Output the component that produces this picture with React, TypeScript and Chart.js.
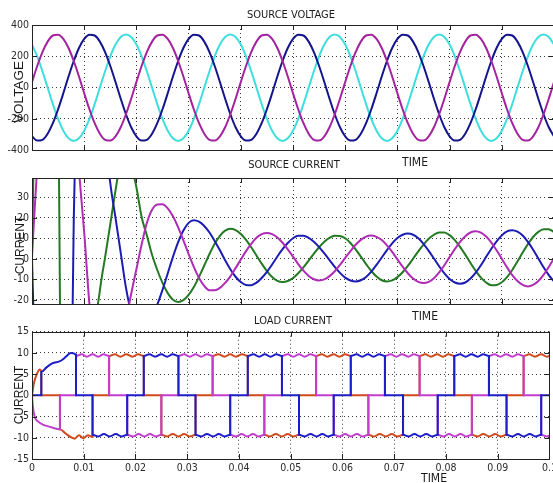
import React, { useEffect, useRef } from 'react';
import { Chart, registerables } from 'chart.js';

Chart.register(...registerables);

// ---------------- data ----------------
// time axis in milliseconds (axis labels shown in seconds)
const T_MS = [
  0, 1, 2, 3, 4, 5, 6, 7, 8, 9, 10, 11, 12, 13, 14, 15, 16, 17, 18, 19,
  20, 21, 22, 23, 24, 25, 26, 27, 28, 29, 30, 31, 32, 33, 34, 35, 36, 37, 38, 39,
  40, 41, 42, 43, 44, 45, 46, 47, 48, 49, 50, 51, 52, 53, 54, 55, 56, 57, 58, 59,
  60, 61, 62, 63, 64, 65, 66, 67, 68, 69, 70, 71, 72, 73, 74, 75, 76, 77, 78, 79,
  80, 81, 82, 83, 84, 85, 86, 87, 88, 89, 90, 91, 92, 93, 94, 95, 96, 97, 98, 99, 100,
];

// SOURCE VOLTAGE (V)
const V_MAGENTA = [
  36, 138, 227, 294, 333, 338, 311, 253, 170, 71, -36, -138, -227, -294, -333, -338, -311, -253, -170, -71,
  36, 138, 227, 294, 333, 338, 311, 253, 170, 71, -36, -138, -227, -294, -333, -338, -311, -253, -170, -71,
  36, 138, 227, 294, 333, 338, 311, 253, 170, 71, -36, -138, -227, -294, -333, -338, -311, -253, -170, -71,
  36, 138, 227, 294, 333, 338, 311, 253, 170, 71, -36, -138, -227, -294, -333, -338, -311, -253, -170, -71,
  36, 138, 227, 294, 333, 338, 311, 253, 170, 71, -36, -138, -227, -294, -333, -338, -311, -253, -170, -71,
  36,
];
const V_NAVY = [
  -311, -338, -333, -294, -227, -138, -36, 71, 170, 253, 311, 338, 333, 294, 227, 138, 36, -71, -170, -253,
  -311, -338, -333, -294, -227, -138, -36, 71, 170, 253, 311, 338, 333, 294, 227, 138, 36, -71, -170, -253,
  -311, -338, -333, -294, -227, -138, -36, 71, 170, 253, 311, 338, 333, 294, 227, 138, 36, -71, -170, -253,
  -311, -338, -333, -294, -227, -138, -36, 71, 170, 253, 311, 338, 333, 294, 227, 138, 36, -71, -170, -253,
  -311, -338, -333, -294, -227, -138, -36, 71, 170, 253, 311, 338, 333, 294, 227, 138, 36, -71, -170, -253,
  -311,
];
const V_CYAN = [
  275, 200, 105, 0, -105, -200, -275, -323, -340, -323, -275, -200, -105, 0, 105, 200, 275, 323, 340, 323,
  275, 200, 105, 0, -105, -200, -275, -323, -340, -323, -275, -200, -105, 0, 105, 200, 275, 323, 340, 323,
  275, 200, 105, 0, -105, -200, -275, -323, -340, -323, -275, -200, -105, 0, 105, 200, 275, 323, 340, 323,
  275, 200, 105, 0, -105, -200, -275, -323, -340, -323, -275, -200, -105, 0, 105, 200, 275, 323, 340, 323,
  275, 200, 105, 0, -105, -200, -275, -323, -340, -323, -275, -200, -105, 0, 105, 200, 275, 323, 340, 323,
  275,
];

// SOURCE CURRENT (A)
const IS_MAGENTA = [
  2, 45, 80, 100, 108, 110, 105, 90, 68, 43,
  13, -22, -45, -57, -61, -60, -53, -42, -30, -17,
  -5, 7, 17.5, 24, 26.6, 26.7, 24.7, 20.8, 15.4, 9.1,
  2.4, -3.9, -9.3, -13.2, -15.3, -15.3, -14.1, -11.7, -8.5, -4.5,
  -0.3, 3.8, 7.4, 10.3, 12.1, 12.7, 12.1, 10.5, 7.9, 4.7,
  1.1, -2.5, -5.7, -8.3, -9.9, -10.5, -10, -8.4, -6, -2.9,
  0.5, 3.8, 6.9, 9.3, 10.9, 11.4, 10.8, 9.2, 6.6, 3.4,
  -0.2, -3.8, -7, -9.6, -11.2, -11.8, -11.2, -9.4, -6.6, -3.1,
  0.9, 4.8, 8.3, 11.1, 12.9, 13.5, 12.8, 10.9, 8, 4.2,
  0.1, -4.1, -7.9, -10.8, -12.7, -13.4, -12.7, -10.8, -7.8, -3.9,
  0.3,
];
const IS_BLUE = [
  0, -90, -150, -190, -210, -215, -205, -170, 19, 140,
  195, 205, 180, 125, 62, 37, 20, 3, -14, -26,
  -32, -33, -31.7, -28, -22.3, -15.1, -7.1, 1, 8.2, 13.9,
  17.6, 18.9, 18.2, 16.1, 12.9, 8.8, 4.2, -0.6, -5, -8.7,
  -11.3, -12.7, -12.8, -11.6, -9.3, -6.3, -2.7, 1.2, 4.8, 7.8,
  10.1, 11.3, 11.3, 10.3, 8.4, 5.8, 2.7, -0.6, -3.9, -6.8,
  -9.1, -10.5, -11, -10.4, -8.8, -6.2, -2.9, 0.7, 4.3, 7.6,
  10.2, 11.8, 12.4, 11.8, 10.1, 7.4, 3.9, 0.2, -3.6, -7.1,
  -9.8, -11.5, -12.1, -11.5, -9.6, -6.7, -3.1, 1, 5, 8.6,
  11.5, 13.4, 14, 13.3, 11.4, 8.3, 4.5, 0.2, -4.1, -7.9,
  -11,
];
const IS_GREEN = [
  0, 150, 230, 260, 240, 100, -230, -290, -300, -270,
  -200, -110, -40, -15.5, 0.8, 17, 33.5, 48, 53, 46,
  35, 20.5, 11.5, 2, -5.4, -11.7, -16.7, -19.9, -21, -20.1,
  -17.6, -13.7, -8.7, -3.2, 2.4, 7.4, 11.3, 13.8, 14.7, 14.1,
  12.2, 9.3, 5.7, 1.7, -2.3, -5.9, -8.8, -10.7, -11.3, -10.8,
  -9.3, -7, -4.1, -0.8, 2.6, 5.7, 8.4, 10.3, 11.3, 11.2,
  10.1, 7.8, 4.7, 1.1, -2.5, -5.9, -8.6, -10.4, -11, -10.5,
  -8.9, -6.5, -3.4, 0.1, 3.7, 7, 9.8, 11.8, 12.9, 12.9,
  11.6, 9.2, 5.9, 2.1, -2, -5.8, -9.1, -11.5, -12.8, -12.7,
  -11.4, -8.9, -5.4, -1.3, 3.1, 7.2, 10.7, 13.2, 14.5, 14.5,
  13.1,
];

// LOAD CURRENT (A): [time ms, current]
const IL_BLUE: [number, number][] = [
  [0, 0], [1.8, 0], [1.8, 5.5], [2.8, 6.6], [4.0, 7.6], [5.3, 8.0], [6.0, 8.5], [6.8, 9.4], [7.5, 10.0], [8.1, 9.9], [8.5, 9.6], [8.5, 0],
  [11.7, 0], [11.7, -9.3], [12.8, -9.7], [13.9, -9.1], [15.0, -9.7], [16.2, -9.1], [17.3, -9.7], [18.4, -9.3], [18.4, 0],
  [21.6, 0], [21.6, 9.3], [22.7, 9.7], [23.8, 9.1], [25.0, 9.7], [26.1, 9.1], [27.2, 9.7], [28.3, 9.3], [28.3, 0],
  [31.6, 0], [31.6, -9.3], [32.7, -9.7], [33.8, -9.1], [35.0, -9.7], [36.1, -9.1], [37.2, -9.7], [38.3, -9.3], [38.3, 0],
  [41.7, 0], [41.7, 9.3], [42.8, 9.7], [43.9, 9.1], [45.0, 9.7], [46.1, 9.1], [47.2, 9.7], [48.3, 9.3], [48.3, 0],
  [51.6, 0], [51.6, -9.3], [52.7, -9.7], [53.8, -9.1], [55.0, -9.7], [56.1, -9.1], [57.2, -9.7], [58.3, -9.3], [58.3, 0],
  [61.6, 0], [61.6, 9.3], [62.7, 9.7], [63.8, 9.1], [64.9, 9.7], [66.0, 9.1], [67.1, 9.7], [68.2, 9.3], [68.2, 0],
  [71.7, 0], [71.7, -9.3], [72.8, -9.7], [73.9, -9.1], [75.0, -9.7], [76.2, -9.1], [77.3, -9.7], [78.4, -9.3], [78.4, 0],
  [81.6, 0], [81.6, 9.3], [82.7, 9.7], [83.8, 9.1], [84.9, 9.7], [86.1, 9.1], [87.2, 9.7], [88.3, 9.3], [88.3, 0],
  [91.7, 0], [91.7, -9.3], [92.8, -9.7], [93.9, -9.1], [95.0, -9.7], [96.2, -9.1], [97.3, -9.7], [98.4, -9.3], [98.4, 0],
  [101.6, 0],
];
const IL_MAGENTA: [number, number][] = [
  [0, 0], [0.15, -2.5], [0.5, -5.0], [1.2, -6.2], [2.1, -6.9], [3.7, -7.5], [5.4, -8.0], [5.4, 0],
  [8.5, 0], [8.5, 9.3], [9.6, 9.7], [10.6, 9.1], [11.7, 9.7], [12.8, 9.1], [13.8, 9.7], [14.9, 9.3], [14.9, 0],
  [18.4, 0], [18.4, -9.3], [19.5, -9.7], [20.6, -9.1], [21.7, -9.7], [22.8, -9.1], [23.9, -9.7], [25.0, -9.3], [25.0, 0],
  [28.3, 0], [28.3, 9.3], [29.4, 9.7], [30.5, 9.1], [31.6, 9.7], [32.7, 9.1], [33.8, 9.7], [34.9, 9.3], [34.9, 0],
  [38.3, 0], [38.3, -9.3], [39.4, -9.7], [40.5, -9.1], [41.6, -9.7], [42.7, -9.1], [43.8, -9.7], [44.9, -9.3], [44.9, 0],
  [48.3, 0], [48.3, 9.3], [49.4, 9.7], [50.5, 9.1], [51.6, 9.7], [52.7, 9.1], [53.8, 9.7], [54.9, 9.3], [54.9, 0],
  [58.3, 0], [58.3, -9.3], [59.4, -9.7], [60.5, -9.1], [61.6, -9.7], [62.8, -9.1], [63.9, -9.7], [65.0, -9.3], [65.0, 0],
  [68.2, 0], [68.2, 9.3], [69.3, 9.7], [70.4, 9.1], [71.5, 9.7], [72.7, 9.1], [73.8, 9.7], [74.9, 9.3], [74.9, 0],
  [78.4, 0], [78.4, -9.3], [79.5, -9.7], [80.6, -9.1], [81.7, -9.7], [82.8, -9.1], [83.9, -9.7], [85.0, -9.3], [85.0, 0],
  [88.3, 0], [88.3, 9.3], [89.4, 9.7], [90.5, 9.1], [91.6, 9.7], [92.8, 9.1], [93.9, 9.7], [95.0, 9.3], [95.0, 0],
  [98.4, 0], [98.4, -9.3], [99.5, -9.7], [100.6, -9.1], [101.7, -9.7],
];
const IL_ORANGE: [number, number][] = [
  [0, 0], [0.4, 3.0], [1.0, 5.2], [1.5, 6.1], [1.8, 5.8], [1.8, 0],
  [5.4, 0], [5.4, -8.0], [6.5, -9.0], [7.6, -9.9], [8.2, -10.2], [9.1, -9.4], [9.9, -10.1], [10.8, -9.4], [11.7, -9.8], [11.7, 0],
  [14.9, 0], [14.9, 9.3], [16.0, 9.7], [17.1, 9.1], [18.2, 9.7], [19.4, 9.1], [20.5, 9.7], [21.6, 9.3], [21.6, 0],
  [25.0, 0], [25.0, -9.3], [26.1, -9.7], [27.2, -9.1], [28.3, -9.7], [29.4, -9.1], [30.5, -9.7], [31.6, -9.3], [31.6, 0],
  [34.9, 0], [34.9, 9.3], [36.0, 9.7], [37.2, 9.1], [38.3, 9.7], [39.4, 9.1], [40.6, 9.7], [41.7, 9.3], [41.7, 0],
  [44.9, 0], [44.9, -9.3], [46.0, -9.7], [47.1, -9.1], [48.3, -9.7], [49.4, -9.1], [50.5, -9.7], [51.6, -9.3], [51.6, 0],
  [54.9, 0], [54.9, 9.3], [56.0, 9.7], [57.1, 9.1], [58.3, 9.7], [59.4, 9.1], [60.5, 9.7], [61.6, 9.3], [61.6, 0],
  [65.0, 0], [65.0, -9.3], [66.1, -9.7], [67.2, -9.1], [68.4, -9.7], [69.5, -9.1], [70.6, -9.7], [71.7, -9.3], [71.7, 0],
  [74.9, 0], [74.9, 9.3], [76.0, 9.7], [77.1, 9.1], [78.3, 9.7], [79.4, 9.1], [80.5, 9.7], [81.6, 9.3], [81.6, 0],
  [85.0, 0], [85.0, -9.3], [86.1, -9.7], [87.2, -9.1], [88.4, -9.7], [89.5, -9.1], [90.6, -9.7], [91.7, -9.3], [91.7, 0],
  [95.0, 0], [95.0, 9.3], [96.1, 9.7], [97.2, 9.1], [98.4, 9.7], [99.5, 9.1], [100.6, 9.7], [101.7, 9.3],
];

const X_TICKS_MS = [0, 10, 20, 30, 40, 50, 60, 70, 80, 90, 100];
const X_TICK_LABELS = ['0', '0.01', '0.02', '0.03', '0.04', '0.05', '0.06', '0.07', '0.08', '0.09', '0.1'];
const Y_TICKS_VOLT = [-400, -200, 0, 200, 400];
const Y_TICKS_SRC = [-20, -10, 0, 10, 20, 30];
const Y_TICKS_LOAD = [-15, -10, -5, 0, 5, 10, 15];

const TITLES = ['SOURCE VOLTAGE', 'SOURCE CURRENT', 'LOAD CURRENT'];
const Y_LABELS = ['VOLTAGE', 'CURRENT', 'CURRENT'];
const X_LABEL = 'TIME';

// ---------------- styling ----------------
const FONT_NARROW = '"Liberation Sans Narrow", "Arial Narrow", "DejaVu Sans Condensed", "Liberation Sans", Arial, sans-serif';
const FONT_REG = '"Liberation Sans", Arial, Helvetica, sans-serif';
const CANVAS_W = 560;

type Txt = { text: string; x: number; y: number; size: number; family: string; rotate?: boolean };
type Panel = {
  top: number; height: number; padTop: number; padBottom: number; xAxisH: number; showX: boolean;
  yMin: number; yMax: number; yTicks: number[]; datasets: any[]; texts: Txt[];
};

const series = (xs: number[], ys: number[]) => xs.map((t, i) => ({ x: t, y: ys[i] }));
const pairs = (p: [number, number][]) => p.map(([t, v]) => ({ x: t, y: v }));
const line = (data: any[], color: string) => ({
  data, borderColor: color, borderWidth: 2, pointRadius: 0, fill: false,
  cubicInterpolationMode: 'monotone' as const,
});

const PANELS: Panel[] = [
  {
    top: 0, height: 168, padTop: 25, padBottom: 17.7, xAxisH: 0, showX: false,
    yMin: -400, yMax: 400, yTicks: Y_TICKS_VOLT,
    datasets: [
      line(series(T_MS, V_MAGENTA), '#a3239f'),
      line(series(T_MS, V_NAVY), '#14148c'),
      line(series(T_MS, V_CYAN), '#3fdede'),
    ],
    texts: [
      { text: TITLES[0], x: 291, y: 15, size: 11, family: FONT_NARROW },
      { text: X_LABEL, x: 415, y: 163, size: 12, family: FONT_NARROW },
      { text: Y_LABELS[0], x: 19, y: 92, size: 13.5, family: FONT_REG, rotate: true },
    ],
  },
  {
    top: 155, height: 170, padTop: 23, padBottom: 21, xAxisH: 0, showX: false,
    yMin: -22, yMax: 39.5, yTicks: Y_TICKS_SRC,
    datasets: [
      line(series(T_MS, IS_MAGENTA), '#b02cb6'),
      line(series(T_MS, IS_BLUE), '#1c1cb4'),
      line(series(T_MS, IS_GREEN), '#237a23'),
    ],
    texts: [
      { text: TITLES[1], x: 294, y: 165, size: 11, family: FONT_NARROW },
      { text: X_LABEL, x: 425, y: 317, size: 12, family: FONT_NARROW },
      { text: Y_LABELS[1], x: 20.5, y: 245, size: 12, family: FONT_REG, rotate: true },
    ],
  },
  {
    top: 312, height: 171, padTop: 19.7, padBottom: 0, xAxisH: 24, showX: true,
    yMin: -15, yMax: 15, yTicks: Y_TICKS_LOAD,
    datasets: [
      line(pairs(IL_BLUE), '#1c1cc8'),
      line(pairs(IL_MAGENTA), '#c23ccf'),
      line(pairs(IL_ORANGE), '#cf4a1c'),
    ],
    texts: [
      { text: TITLES[2], x: 293, y: 321, size: 11, family: FONT_NARROW },
      { text: X_LABEL, x: 434, y: 479, size: 12, family: FONT_NARROW },
      { text: Y_LABELS[2], x: 19.5, y: 395, size: 12, family: FONT_REG, rotate: true },
    ],
  },
];

function makeAxesPlugin(p: Panel) {
  return {
    id: 'matlabAxes',
    afterDraw(chart: any) {
      const { ctx, chartArea: a, scales } = chart;
      ctx.save();
      ctx.strokeStyle = '#222';
      ctx.lineWidth = 1;
      ctx.setLineDash([]);
      ctx.beginPath();
      for (const v of X_TICKS_MS) {
        const x = Math.round(scales.x.getPixelForValue(v)) + 0.5;
        ctx.moveTo(x, a.top); ctx.lineTo(x, a.top + 5);
        ctx.moveTo(x, a.bottom); ctx.lineTo(x, a.bottom - 5);
      }
      for (const v of p.yTicks) {
        const y = Math.round(scales.y.getPixelForValue(v)) + 0.5;
        ctx.moveTo(a.left, y); ctx.lineTo(a.left + 5, y);
        ctx.moveTo(a.right, y); ctx.lineTo(a.right - 5, y);
      }
      ctx.stroke();
      ctx.strokeRect(Math.round(a.left) + 0.5, Math.round(a.top) + 0.5,
        Math.round(a.right - a.left), Math.round(a.bottom - a.top));

      ctx.fillStyle = '#1a1a1a';
      ctx.textAlign = 'center';
      ctx.textBaseline = 'middle';
      for (const t of p.texts) {
        ctx.font = `${t.size}px ${t.family}`;
        const y = t.y - p.top;
        if (t.rotate) {
          ctx.save();
          ctx.translate(t.x, y);
          ctx.rotate(-Math.PI / 2);
          ctx.fillText(t.text, 0, 0);
          ctx.restore();
        } else {
          ctx.fillText(t.text, t.x, y);
        }
      }
      ctx.restore();
    },
  };
}

function buildChart(canvas: HTMLCanvasElement, p: Panel) {
  return new Chart(canvas, {
    type: 'line',
    data: { datasets: p.datasets },
    plugins: [makeAxesPlugin(p)],
    options: {
      responsive: false,
      animation: false,
      devicePixelRatio: 1,
      layout: { padding: { left: 0, right: 6, top: p.padTop, bottom: p.padBottom } },
      plugins: { legend: { display: false }, tooltip: { enabled: false }, title: { display: false } },
      scales: {
        x: {
          type: 'linear', min: 0, max: 100,
          afterBuildTicks: (ax: any) => { ax.ticks = X_TICKS_MS.map((v) => ({ value: v })); },
          afterFit: (s: any) => { s.height = p.xAxisH; },
          ticks: {
            display: p.showX, autoSkip: false, maxRotation: 0, padding: 3,
            color: '#2a2a2a', font: { family: FONT_NARROW, size: 10.5 },
            callback: (_v: any, i: number) => X_TICK_LABELS[i],
          },
          grid: { display: true, color: '#3a3a3a', lineWidth: 1, drawTicks: false },
          border: { display: false, dash: [1, 3] },
        },
        y: {
          type: 'linear', min: p.yMin, max: p.yMax,
          afterBuildTicks: (ax: any) => { ax.ticks = p.yTicks.map((v) => ({ value: v })); },
          afterFit: (s: any) => { s.width = 32; },
          ticks: {
            autoSkip: false, padding: 3, color: '#2a2a2a',
            font: { family: FONT_NARROW, size: 10.5 },
            callback: (v: any) => String(v),
          },
          grid: { display: true, color: '#3a3a3a', lineWidth: 1, drawTicks: false },
          border: { display: false, dash: [1, 3] },
        },
      },
    } as any,
  });
}

export default function App() {
  const refs = useRef<(HTMLCanvasElement | null)[]>([]);
  useEffect(() => {
    const charts = PANELS.map((p, i) => buildChart(refs.current[i] as HTMLCanvasElement, p));
    return () => charts.forEach((c) => c.destroy());
  }, []);
  return (
    <div style={{ position: 'fixed', left: 0, top: 0, width: 553, height: 483, overflow: 'hidden', background: '#fff' }}>
      {PANELS.map((p, i) => (
        <canvas
          key={i}
          ref={(el) => { refs.current[i] = el; }}
          width={CANVAS_W}
          height={p.height}
          style={{ position: 'absolute', left: 0, top: p.top, width: CANVAS_W, height: p.height }}
        />
      ))}
    </div>
  );
}
